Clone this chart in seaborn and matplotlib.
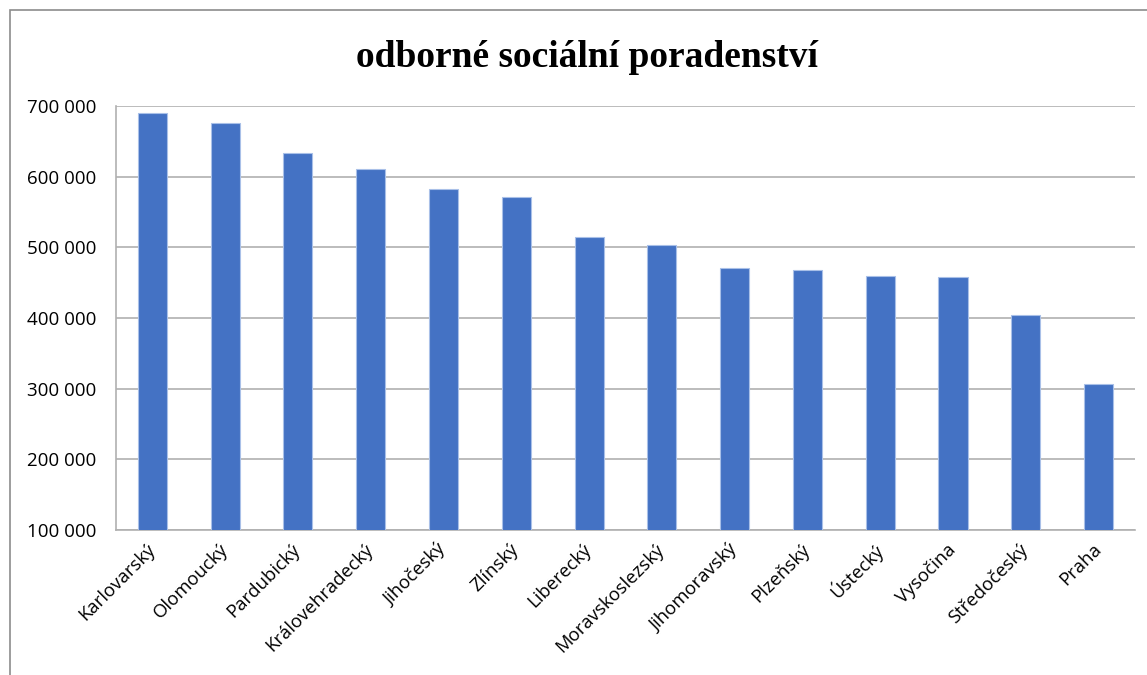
import matplotlib
matplotlib.use('Agg')
import matplotlib.pyplot as plt
import matplotlib.ticker as mticker
from matplotlib.patches import Rectangle
import seaborn as sns

# data
kraje = ['Karlovarský', 'Olomoucký', 'Pardubický', 'Královehradecký', 'Jihočeský',
         'Zlínský', 'Liberecký', 'Moravskoslezský', 'Jihomoravský', 'Plzeňský',
         'Ústecký', 'Vysočina', 'Středočeský', 'Praha']
hodnoty = [690500, 676000, 633000, 611000, 582500, 571000, 514000, 503000,
           471000, 467500, 460000, 457500, 404000, 306000]
y_ticks = [100000, 200000, 300000, 400000, 500000, 600000, 700000]

sns.set_style('white')
plt.rcParams['font.family'] = ['Open Sans', 'DejaVu Sans']
plt.rcParams['text.color'] = 'black'
plt.rcParams['xtick.labelcolor'] = 'black'
plt.rcParams['ytick.labelcolor'] = 'black'

fig = plt.figure(figsize=(11.47, 6.75), dpi=100)
ax = fig.add_axes([0.1011, 0.2148, 0.8884, 0.6282])

sns.barplot(x=kraje, y=hodnoty, color='#4472C4', saturation=1, width=0.4,
            edgecolor='#a9c0e8', linewidth=0.8, ax=ax, zorder=3)

ax.set_ylim(100000, 700000)
ax.set_xlim(-0.5, len(kraje) - 0.5)
ax.set_yticks(y_ticks)
ax.yaxis.set_major_formatter(mticker.FuncFormatter(lambda v, p: f'{int(v):,}'.replace(',', ' ')))
ax.grid(axis='y', color='#b0b0b0', linewidth=1.2, zorder=0)
ax.set_axisbelow(True)

for s in ['top', 'right']:
    ax.spines[s].set_visible(False)
for s in ['left', 'bottom']:
    ax.spines[s].set_color('#b0b0b0')
    ax.spines[s].set_linewidth(1.2)

ax.tick_params(axis='y', length=7, width=1.2, color='#b0b0b0', labelsize=13.5, pad=7)
ax.tick_params(axis='x', which='major', length=0, labelsize=13.3, pad=12)
ax.set_xticks([i - 0.5 for i in range(len(kraje) + 1)], minor=True)
ax.tick_params(axis='x', which='minor', length=6, width=1.2, color='#b0b0b0', direction='out')
plt.setp(ax.get_xticklabels(), rotation=45, ha='right', va='center', rotation_mode='anchor')
ax.set_xlabel('')
ax.set_ylabel('')

fig.text(0.512, 0.915, 'odborné sociální poradenství', ha='center', va='center', color='black',
         fontsize=27, fontweight='bold', family=['Liberation Serif', 'DejaVu Serif'])

# outer frame of the chart
fig.patches.append(Rectangle((10 / 1147, -0.1), 1.2, 1.1 - 10 / 675, transform=fig.transFigure,
                             fill=False, edgecolor='#8c8c8c', linewidth=1.2))

fig.savefig('out.png', dpi=100)
